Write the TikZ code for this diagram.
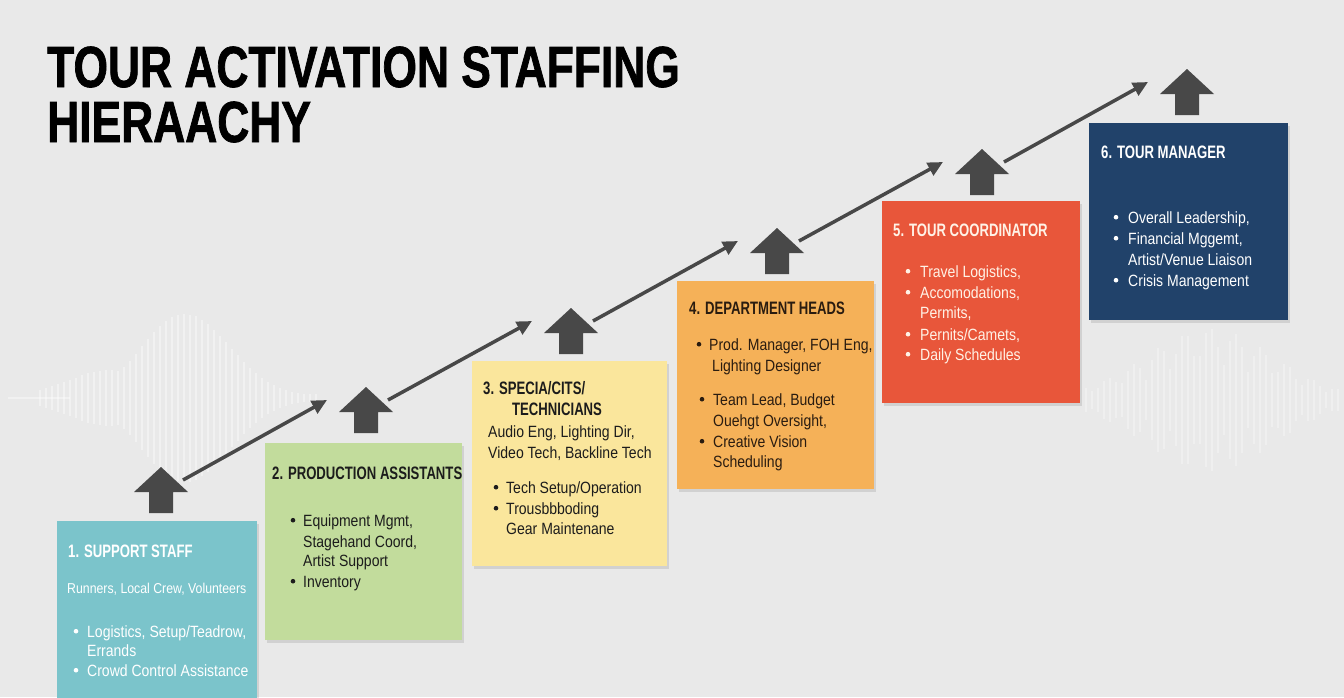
\documentclass[tikz,border=0pt]{standalone}
\usepackage{fontspec}
\setmainfont{Liberation Sans}
\newfontfamily\titlef[FakeStretch=0.765,FakeBold=1.2]{Liberation Sans}
\newfontfamily\headf[FakeStretch=0.73]{Liberation Sans}
\newfontfamily\bodyf[FakeStretch=0.86]{Liberation Sans}
\usetikzlibrary{arrows.meta,shadows}
\definecolor{bgc}{HTML}{E9E9E9}
\definecolor{arr}{HTML}{484848}
\definecolor{cA}{HTML}{7BC4CB}
\definecolor{cB}{HTML}{C2DC9C}
\definecolor{cC}{HTML}{FAE69C}
\definecolor{cD}{HTML}{F5B158}
\definecolor{cE}{HTML}{E8563A}
\definecolor{cF}{HTML}{21426A}
\definecolor{tdark}{HTML}{1C1C1C}
\definecolor{tbrown}{HTML}{2A1C10}
\definecolor{twhite}{HTML}{FFFFFF}
\definecolor{tcream}{HTML}{FFF2E6}
\newcommand\mkbox[6]{\node[box,fill=#6,anchor=north west,minimum width=#4pt,minimum height=#5pt] (#1) at (#2,#3) {};}
\newcommand\mkhead[5]{\node[hd,text=#5] (#1) at (#2,#3) {#4};}
\newcommand\mkline[5]{\node[bd,text=#5] (#1) at (#2,#3) {#4};}
\newcommand\mkbul[6]{\fill[#6] (#2,#4-5.8) circle[radius=2.3]; \node[bd,text=#6] (#1) at (#3,#4) {#5};}
\newcommand\uparr[3]{%
  \fill[arr] (#2-27,#3+25) -- (#2,#3) -- (#2+27,#3+25) -- (#2+12,#3+25) -- (#2+12,#3+46) -- (#2-12,#3+46) -- (#2-12,#3+25) -- cycle;
  \coordinate (#1o) at (#2+22,#3+13);
  \coordinate (#1i) at (#2-39,#3+13);}
\begin{document}
\begin{tikzpicture}[x=1pt,y=-1pt,
  box/.style={draw=none,inner sep=0pt,outer sep=0pt,drop shadow={opacity=0.22,shadow xshift=2pt,shadow yshift=-2.5pt}},
  hd/.style={anchor=base west,inner sep=0pt,font=\headf\bfseries\fontsize{18}{20}\selectfont},
  bd/.style={anchor=base west,inner sep=0pt,font=\bodyf\fontsize{16.3}{19}\selectfont},
  conn/.style={draw=arr,line width=3.5pt,-{Triangle[length=15pt,width=14pt]}}]
\fill[bgc] (0,0) rectangle (1344,697);
\useasboundingbox (0,0) rectangle (1344,697);
% faint waveform
\begin{scope}[white,opacity=0.4,line width=2.2pt]
  \draw[line width=1.2pt] (8,398) -- (70,398);
  \foreach \x in {40,46,...,320} {
    \pgfmathsetmacro\h{2+90*exp(-((\x-170)/80)*((\x-170)/80))*(0.4+0.6*abs(sin(\x*29)))}
    \draw (\x,398-\h) -- (\x,398+\h);
  }
\end{scope}
\begin{scope}[white,opacity=0.3,line width=2.2pt]
  \foreach \x in {1086,1092,...,1340} {
    \pgfmathsetmacro\h{2+70*exp(-((\x-1210)/90)*((\x-1210)/90))*(0.4+0.6*abs(sin((\x-1000)*37)))}
    \draw (\x,400-\h) -- (\x,400+\h);
  }
\end{scope}
% title
\node[anchor=base west,inner sep=0pt,text=black,font=\titlef\bfseries\fontsize{58}{58}\selectfont] (title1) at (47,87) {TOUR ACTIVATION STAFFING};
\node[anchor=base west,inner sep=0pt,text=black,font=\titlef\bfseries\fontsize{58}{58}\selectfont] (title2) at (47,142) {HIERAACHY};
% boxes
\mkbox{b1}{57}{521}{200}{180}{cA}
\mkbox{b2}{265}{443}{197}{197}{cB}
\mkbox{b3}{472}{361}{195}{205}{cC}
\mkbox{b4}{677}{281}{197}{208}{cD}
\mkbox{b5}{882}{201}{198}{202}{cE}
\mkbox{b6}{1089}{123}{199}{197}{cF}
% up arrows
\uparr{u1}{161}{467}
\uparr{u2}{366}{387}
\uparr{u3}{571}{308}
\uparr{u4}{777}{228}
\uparr{u5}{982}{149}
\uparr{u6}{1187}{69}
% connectors
\draw[conn] (u1o) -- (u2i);
\draw[conn] (u2o) -- (u3i);
\draw[conn] (u3o) -- (u4i);
\draw[conn] (u4o) -- (u5i);
\draw[conn] (u5o) -- (u6i);
% box 1
\mkhead{h1}{68}{557}{1. SUPPORT STAFF}{twhite}
\node[bd,text=twhite,font=\bodyf\fontsize{14.3}{17}\selectfont] (s1) at (67,593) {Runners, Local Crew, Volunteers};
\mkbul{l1a}{76}{87}{637}{Logistics, Setup/Teadrow,}{twhite}
\mkline{l1b}{87}{656}{Errands}{twhite}
\mkbul{l1c}{76}{87}{676}{Crowd Control Assistance}{twhite}
% box 2
\mkhead{h2}{272}{479}{2. PRODUCTION ASSISTANTS}{tdark}
\mkbul{l2a}{293}{303}{526}{Equipment Mgmt,}{tdark}
\mkline{l2b}{303}{547}{Stagehand Coord,}{tdark}
\mkline{l2c}{303}{566}{Artist Support}{tdark}
\mkbul{l2d}{293}{303}{587}{Inventory}{tdark}
% box 3
\mkhead{h3}{483}{394}{3. SPECIA/CITS/}{tdark}
\mkhead{h3b}{512}{415}{TECHNICIANS}{tdark}
\mkline{s3a}{488}{437}{Audio Eng, Lighting Dir,}{tdark}
\mkline{s3b}{488}{458}{Video Tech, Backline Tech}{tdark}
\mkbul{l3a}{496}{506}{493}{Tech Setup/Operation}{tdark}
\mkbul{l3b}{496}{506}{514}{Trousbbboding}{tdark}
\mkline{l3c}{506}{534}{Gear Maintenane}{tdark}
% box 4
\mkhead{h4}{689}{314}{4. DEPARTMENT HEADS}{tbrown}
\mkbul{l4a}{699}{709}{350}{Prod. Manager, FOH Eng,}{tbrown}
\mkline{l4b}{712}{371}{Lighting Designer}{tbrown}
\mkbul{l4c}{702}{713}{405}{Team Lead, Budget}{tbrown}
\mkline{l4d}{713}{426}{Ouehgt Oversight,}{tbrown}
\mkbul{l4e}{702}{713}{447}{Creative Vision}{tbrown}
\mkline{l4f}{713}{467}{Scheduling}{tbrown}
% box 5
\mkhead{h5}{893}{236}{5. TOUR COORDINATOR}{tcream}
\mkbul{l5a}{908}{920}{277}{Travel Logistics,}{tcream}
\mkbul{l5b}{908}{920}{298}{Accomodations,}{tcream}
\mkline{l5c}{920}{318}{Permits,}{tcream}
\mkbul{l5d}{908}{920}{340}{Pernits/Camets,}{tcream}
\mkbul{l5e}{908}{920}{360}{Daily Schedules}{tcream}
% box 6
\mkhead{h6}{1101}{158}{6. TOUR MANAGER}{twhite}
\mkbul{l6a}{1116}{1128}{223}{Overall Leadership,}{twhite}
\mkbul{l6b}{1116}{1128}{244}{Financial Mggemt,}{twhite}
\mkline{l6c}{1128}{265}{Artist/Venue Liaison}{twhite}
\mkbul{l6d}{1116}{1128}{286}{Crisis Management}{twhite}
\end{tikzpicture}
\end{document}
